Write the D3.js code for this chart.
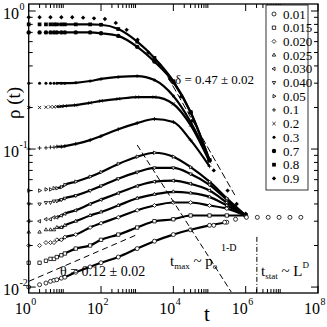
<!DOCTYPE html>
<html>
<head>
<meta charset="utf-8">
<script src="https://cdn.jsdelivr.net/npm/d3@7/dist/d3.min.js"></script>
<style>
body { margin: 0; background: #fff; }
svg { display: block; font-family: "Liberation Serif", "DejaVu Serif", serif; }
</style>
</head>
<body>
<svg id="chart" width="327" height="327"></svg>
<script>
// time grid shared by the curves
const T = [1, 2, 3, 4, 5, 6, 8, 10, 20, 50, 100, 300, 1e3, 3e3, 1e4, 3e4, 1e5, 3e5, 1e6];
// p0 = 0.9 was sampled on powers of two
const T2 = [1, 2, 4, 8, 16, 32, 64, 128, 256, 512, 1024, 2048, 4096, 8192, 16384, 32768, 65536, 131072, 316228, 562341, 1e6];
const tailT = [131072, 262144, 524288, 1048576, 2097152, 4194304, 8388608, 16777216, 33554432];

const rho001 = [0.01, 0.0104, 0.0107, 0.011, 0.0112, 0.0113, 0.0116, 0.0118, 0.0128, 0.014, 0.015, 0.0165, 0.019, 0.0215, 0.024, 0.026, 0.028, 0.0295, null];
const rho0015 = [0.015, 0.015, 0.0155, 0.016, 0.016, 0.0165, 0.017, 0.0175, 0.019, 0.02, 0.022, 0.024, 0.027, 0.03, 0.031, 0.033, 0.033, 0.033, 0.033];
const rho0020 = [0.02, 0.02, 0.021, 0.021, 0.021, 0.022, 0.022, 0.023, 0.024, 0.027, 0.029, 0.032, 0.036, 0.039, 0.041, 0.041, 0.039, 0.037, 0.033];
const rho0025 = [0.025, 0.025, 0.026, 0.026, 0.026, 0.027, 0.027, 0.028, 0.03, 0.033, 0.035, 0.039, 0.044, 0.047, 0.049, 0.048, 0.045, 0.039, 0.033];
const rho0030 = [0.03, 0.03, 0.031, 0.031, 0.032, 0.032, 0.033, 0.034, 0.036, 0.04, 0.043, 0.048, 0.054, 0.058, 0.059, 0.056, 0.05, 0.041, 0.033];
const rho0040 = [0.04, 0.04, 0.041, 0.041, 0.042, 0.042, 0.043, 0.044, 0.046, 0.05, 0.054, 0.061, 0.068, 0.073, 0.073, 0.066, 0.055, 0.043, 0.033];
const rho005 = [0.05, 0.05, 0.051, 0.051, 0.052, 0.052, 0.053, 0.055, 0.058, 0.063, 0.068, 0.078, 0.088, 0.094, 0.088, 0.074, 0.058, 0.044, 0.033];
const rho01 = [0.1, 0.1017, 0.102, 0.103, 0.103, 0.104, 0.104, 0.105, 0.109, 0.116, 0.124, 0.139, 0.154, 0.165, 0.157, 0.116, 0.075, null, null];
const rho02 = [0.2, 0.2, 0.201, 0.202, 0.202, 0.203, 0.204, 0.205, 0.208, 0.216, 0.223, 0.231, 0.238, 0.238, 0.212, 0.149, 0.081, null, null];
const rho03 = [0.3, 0.3, 0.3, 0.3, 0.3, 0.3, 0.3, 0.3, 0.302, 0.311, 0.322, 0.333, 0.338, 0.316, 0.242, 0.157, 0.083, null, null];
const rho07 = [0.7, 0.7, 0.7, 0.7, 0.7, 0.7, 0.7, 0.7, 0.7, 0.7, 0.69, 0.66, 0.55, 0.43, 0.305, 0.185, 0.083, null, null];
const rho08 = [0.8, 0.8, 0.8, 0.8, 0.8, 0.8, 0.8, 0.8, 0.8, 0.8, 0.795, 0.74, 0.6, 0.457, 0.31, 0.185, 0.083, null, null];
const rho09 = [0.9, 0.9, 0.9, 0.9, 0.9, 0.895, 0.885, 0.875, 0.82, 0.73, 0.62, 0.5, 0.41, 0.32, 0.24, 0.16, 0.107, 0.07, 0.05, 0.04, 0.034];
const rho001tail = [0.028, 0.0295, 0.031, 0.032, 0.032, 0.032, 0.032, 0.032, 0.032];

const p0Labels = ['0.01', '0.015', '0.020', '0.025', '0.030', '0.040', '0.05', '0.1', '0.2', '0.3', '0.7', '0.8', '0.9'];
const markers = ['circle', 'square', 'diamond', 'triUp', 'triLeft', 'triDown', 'triRight', 'plus', 'cross', 'dot', 'disc', 'squareF', 'diamondF'];

// guide lines [t, rho]
const deltaLine = [[5100, 0.386], [5e5, 0.0464]];
const tmaxLine = [[1e3, 0.107], [4e5, 0.0092]];
const thetaLine = [[1, 0.011], [1e3, 0.024]];
const tstatLine = [[2.04e6, 0.0231], [2.04e6, 0.00906]];

const xTicksMajor = [1, 1e2, 1e4, 1e6, 1e8];
const xTickExp = ['0', '2', '4', '6', '8'];
const yTicksMajor = [1e-2, 1e-1, 1];
const yTickExp = ['-2', '-1', '0'];

const svg = d3.select('#chart');
const frameL = 28.7, frameR = 318, frameT = 4, frameB = 293;
const x = d3.scaleLog().domain([1, 1e8]).range([frameL, frameR]);
const y = d3.scaleLog().domain([0.009057, 1.124]).range([frameB, frameT]);

// marker shapes
const shape = (type, r) => {
	const k = 0.87 * r, h = 0.5 * r;
	switch (type) {
		case 'square': case 'squareF': return `M${-r * 0.85},${-r * 0.85}h${r * 1.7}v${r * 1.7}h${-r * 1.7}Z`;
		case 'diamond': case 'diamondF': return `M0,${-r}L${r},0L0,${r}L${-r},0Z`;
		case 'triUp': return `M0,${-r}L${k},${h}L${-k},${h}Z`;
		case 'triDown': return `M0,${r}L${k},${-h}L${-k},${-h}Z`;
		case 'triLeft': return `M${-r},0L${h},${k}L${h},${-k}Z`;
		case 'triRight': return `M${r},0L${-h},${k}L${-h},${-k}Z`;
		case 'plus': return `M${-r},0H${r}M0,${-r}V${r}`;
		case 'cross': return `M${-r * 0.8},${-r * 0.8}L${r * 0.8},${r * 0.8}M${r * 0.8},${-r * 0.8}L${-r * 0.8},${r * 0.8}`;
		default: return d3.symbol(d3.symbolCircle, Math.PI * r * r)();
	}
};
const filled = (type) => ['dot', 'disc', 'squareF', 'diamondF'].includes(type);
const markerR = { dot: 1.5, disc: 2.2, squareF: 2.2, diamondF: 2.2 };
const drawMarker = (g, type, px, py) => {
	g.append('path').attr('d', shape(type, markerR[type] || 2)).attr('transform', `translate(${px},${py})`)
		.attr('fill', filled(type) ? '#000' : '#fff').attr('stroke', '#000').attr('stroke-width', filled(type) ? 0 : 0.8);
};

// series table
const curves = [rho001, rho0015, rho0020, rho0025, rho0030, rho0040, rho005, rho01, rho02, rho03, rho07, rho08];
const series = curves.map((vals, i) => ({ label: p0Labels[i], marker: markers[i], pts: T.map((t, j) => [t, vals[j]]).filter((d) => d[1] != null) }));

const plot = svg.append('g');
const line = d3.line().x((d) => x(d[0])).y((d) => y(d[1])).curve(d3.curveMonotoneX);

// thick curves (dense data shows as solid bands)
series.forEach((s) => {
	plot.append('path').datum(s.pts.filter((d) => d[0] >= 6)).attr('d', line)
		.attr('fill', 'none').attr('stroke', '#000').attr('stroke-width', 2.2);
});
series.forEach((s) => s.pts.forEach((d) => drawMarker(plot, s.marker, x(d[0]), y(d[1]))));
T2.forEach((t, j) => drawMarker(plot, 'diamondF', x(t), y(rho09[j])));
tailT.forEach((t, j) => drawMarker(plot, 'circle', x(t), y(rho001tail[j])));

// guide lines
const straight = d3.line().x((d) => x(d[0])).y((d) => y(d[1]));
plot.append('path').attr('d', straight(deltaLine)).attr('stroke', '#000').attr('stroke-width', 1).attr('stroke-dasharray', '7,3').attr('fill', 'none');
plot.append('path').attr('d', straight(tmaxLine)).attr('stroke', '#000').attr('stroke-width', 1).attr('stroke-dasharray', '6,3').attr('fill', 'none');
plot.append('path').attr('d', straight(thetaLine)).attr('stroke', '#000').attr('stroke-width', 1).attr('stroke-dasharray', '6,4').attr('fill', 'none');
plot.append('path').attr('d', straight(tstatLine)).attr('stroke', '#000').attr('stroke-width', 1).attr('stroke-dasharray', '5,2,1,2').attr('fill', 'none');

// frame and ticks
svg.append('rect').attr('x', frameL).attr('y', frameT).attr('width', frameR - frameL).attr('height', frameB - frameT)
	.attr('fill', 'none').attr('stroke', '#000').attr('stroke-width', 1.3);
const ticks = svg.append('g').attr('stroke', '#000').attr('stroke-width', 1);
const xMinor = [];
[1, 1e2, 1e4, 1e6].forEach((m) => d3.range(2, 10).forEach((k) => xMinor.push(k * m)));
const yMinor = [];
[1e-3, 1e-2, 1e-1].forEach((m) => d3.range(2, 10).forEach((k) => { if (k * m >= 0.009057) yMinor.push(k * m); }));
const tick = (x1, y1, x2, y2) => ticks.append('line').attr('x1', x1).attr('y1', y1).attr('x2', x2).attr('y2', y2);
xTicksMajor.forEach((t) => { tick(x(t), frameB, x(t), frameB - 7); tick(x(t), frameT, x(t), frameT + 7); });
xMinor.forEach((t) => { tick(x(t), frameB, x(t), frameB - 4); tick(x(t), frameT, x(t), frameT + 4); });
yTicksMajor.forEach((v) => { tick(frameL, y(v), frameL + 7, y(v)); tick(frameR, y(v), frameR - 7, y(v)); });
yMinor.forEach((v) => { tick(frameL, y(v), frameL + 4, y(v)); tick(frameR, y(v), frameR - 4, y(v)); });

// tick labels
const labels = svg.append('g').attr('fill', '#000');
xTicksMajor.forEach((t, i) => {
	labels.append('text').attr('x', x(t) + 2).attr('y', 314).attr('text-anchor', 'end').attr('font-size', 16).text('10');
	labels.append('text').attr('x', x(t) + 2.5).attr('y', 305).attr('font-size', 10).text(xTickExp[i]);
});
yTicksMajor.forEach((v, i) => {
	labels.append('text').attr('x', 19).attr('y', y(v) + 8).attr('text-anchor', 'end').attr('font-size', 16).text('10');
	labels.append('text').attr('x', 19.5).attr('y', y(v) - 1).attr('font-size', 10).text(yTickExp[i]);
});
labels.append('text').attr('x', 207).attr('y', 321).attr('text-anchor', 'middle').attr('font-size', 21).text('t');
labels.append('text').attr('transform', 'translate(20,103) rotate(-90)').attr('text-anchor', 'middle').attr('font-size', 19).text('ρ (t)');

// annotations
labels.append('text').attr('x', 175).attr('y', 84).attr('font-size', 13).text('δ = 0.47 ± 0.02');
labels.append('text').attr('x', 60).attr('y', 276).attr('font-size', 14).text('θ = 0.12 ± 0.02');
const tm = labels.append('text').attr('x', 170).attr('y', 266).attr('font-size', 15);
tm.append('tspan').text('t');
tm.append('tspan').attr('font-size', 9).attr('dy', 3).text('max');
tm.append('tspan').attr('dy', -3).text(' ~ p');
tm.append('tspan').attr('font-size', 9).attr('dy', 3).text('o');
labels.append('text').attr('x', 221).attr('y', 251).attr('font-size', 10).text('1-D');
const ts = labels.append('text').attr('x', 261).attr('y', 276).attr('font-size', 15);
ts.append('tspan').text('t');
ts.append('tspan').attr('font-size', 9).attr('dy', 3).text('stat');
ts.append('tspan').attr('dy', -3).text(' ~ L');
ts.append('tspan').attr('font-size', 9).attr('dy', -8).text('D');

// legend
const legend = svg.append('g');
legend.append('rect').attr('x', 266).attr('y', 5).attr('width', 42).attr('height', 185)
	.attr('fill', '#fff').attr('stroke', '#000').attr('stroke-width', 0.8);
p0Labels.forEach((lab, i) => {
	const ly = 14 + i * 13.7;
	drawMarker(legend, markers[i], 274, ly);
	legend.append('text').attr('x', 283).attr('y', ly + 4.5).attr('font-size', 13).text(lab);
});
</script>
</body>
</html>
